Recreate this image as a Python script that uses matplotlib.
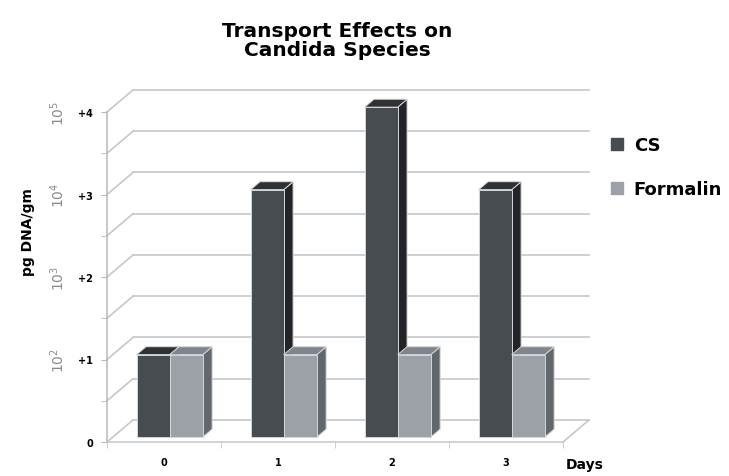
import matplotlib.pyplot as plt
from matplotlib.patches import Polygon
from matplotlib.lines import Line2D

days = ["0", "1", "2", "3"]
series = ["CS", "Formalin"]
cs_vals = [1, 3, 4, 3]          # log steps above baseline
formalin_vals = [1, 1, 1, 1]
ytick_vals = [0, 1, 2, 3, 4]
ytick_labels = ["0", "+1", "+2", "+3", "+4"]
pow_labels = ["", r"$10^2$", r"$10^3$", r"$10^4$", r"$10^5$"]

front_col = {"CS": "#474c51", "Formalin": "#9ca1a7"}
top_col = {"CS": "#2f3235", "Formalin": "#80858b"}
side_col = {"CS": "#222427", "Formalin": "#63676c"}
grid_col = "#c4c8cc"

DX, DY = 0.228, 0.267   # depth of the back wall in data units
f0, f1 = 0.22, 0.58     # bar front/back depth fraction
bw = 0.29

fig = plt.figure(figsize=(7.29, 4.77), dpi=100)
ax = fig.add_axes([107 / 729, 34 / 477, 456 / 729, 330 / 477])
ax.set_xlim(-0.5, 3.5)
ax.set_ylim(0, 4)

# back wall gridlines + side wall diagonals
y = 0.0
while y <= 4.001:
    ax.plot([-0.5, -0.5 + DX], [y, y + DY], color=grid_col, lw=1.2, clip_on=False, zorder=1)
    ax.plot([-0.5 + DX, 3.5 + DX], [y + DY, y + DY], color=grid_col, lw=1.2, clip_on=False, zorder=1)
    y += 0.5
ax.plot([3.5, 3.5 + DX], [0, DY], color=grid_col, lw=1.2, clip_on=False, zorder=1)


def draw_bar(x0, v, name, z):
    xa, xb = x0 + f0 * DX, x0 + bw + f0 * DX
    ya = f0 * DY
    ec = "#d4d7da"
    ddx = (f1 - f0) * DX
    side = [(xb, ya), (xb + ddx, f1 * DY), (xb + ddx, v + f1 * DY), (xb, v + ya)]
    top = [(xa, v + ya), (xb, v + ya), (xb + ddx, v + f1 * DY), (xa + ddx, v + f1 * DY)]
    front = [(xa, ya), (xb, ya), (xb, v + ya), (xa, v + ya)]
    ax.add_patch(Polygon(side, closed=True, fc=side_col[name], ec=ec, lw=0.7, zorder=z, clip_on=False))
    ax.add_patch(Polygon(top, closed=True, fc=top_col[name], ec=ec, lw=0.7, zorder=z, clip_on=False))
    ax.add_patch(Polygon(front, closed=True, fc=front_col[name], ec=ec, lw=0.7, zorder=z + 0.1, clip_on=False))


for i in range(len(days)):
    draw_bar(i - bw, cs_vals[i], "CS", 3 + i)
    draw_bar(i, formalin_vals[i], "Formalin", 3.5 + i)

# axes styling
for s in ["top", "right"]:
    ax.spines[s].set_visible(False)
ax.spines["left"].set_color("#b5b9bd")
ax.spines["bottom"].set_color("#c4c8cc")
ax.spines["left"].set_linewidth(1.1)
ax.spines["bottom"].set_linewidth(1.1)
ax.set_yticks(ytick_vals)
ax.set_yticklabels(ytick_labels, fontsize=7, fontweight="bold")
ax.set_yticks([0.5, 1.5, 2.5, 3.5], minor=True)
ax.tick_params(axis="y", which="both", length=4, color="#b5b9bd", pad=6)
ax.set_xticks(range(len(days)))
ax.set_xticklabels(days, fontsize=7, fontweight="bold")
ax.set_xticks([-0.5, 0.5, 1.5, 2.5, 3.5], minor=True)
ax.tick_params(axis="x", which="major", length=0, pad=11)
ax.tick_params(axis="x", which="minor", length=4, color="#c4c8cc")
ax.set_facecolor("none")

# power-of-ten labels beside the +n ticks
for yv, lab in zip(ytick_vals, pow_labels):
    if lab:
        ax.text(-49 / 456, yv, lab, transform=ax.get_yaxis_transform(), fontsize=10,
                color="#8a8a8a", family="serif", rotation=90, ha="center", va="center")

fig.text(28 / 729, 1 - 232 / 477, "pg DNA/gm", rotation=90, fontsize=10,
         fontweight="bold", ha="center", va="center")
fig.text(585 / 729, 1 - 465 / 477, "Days", fontsize=10, fontweight="bold",
         ha="center", va="center")
fig.text(337 / 729, 1 - 41 / 477, "Transport Effects on\nCandida Species",
         fontsize=14.5, fontweight="bold", ha="center", va="center", linespacing=1.0)

handles = [Line2D([], [], ls="none", marker="s", markersize=8,
                  color=front_col[n]) for n in series]
fig.legend(handles, series, loc="upper left", bbox_to_anchor=(603 / 729, 1 - 130 / 477),
           frameon=False, prop={"size": 13, "weight": "bold"}, handlelength=0.8,
           handletextpad=0.5, labelspacing=1.45, borderaxespad=0)

fig.savefig("out.png", dpi=100)
